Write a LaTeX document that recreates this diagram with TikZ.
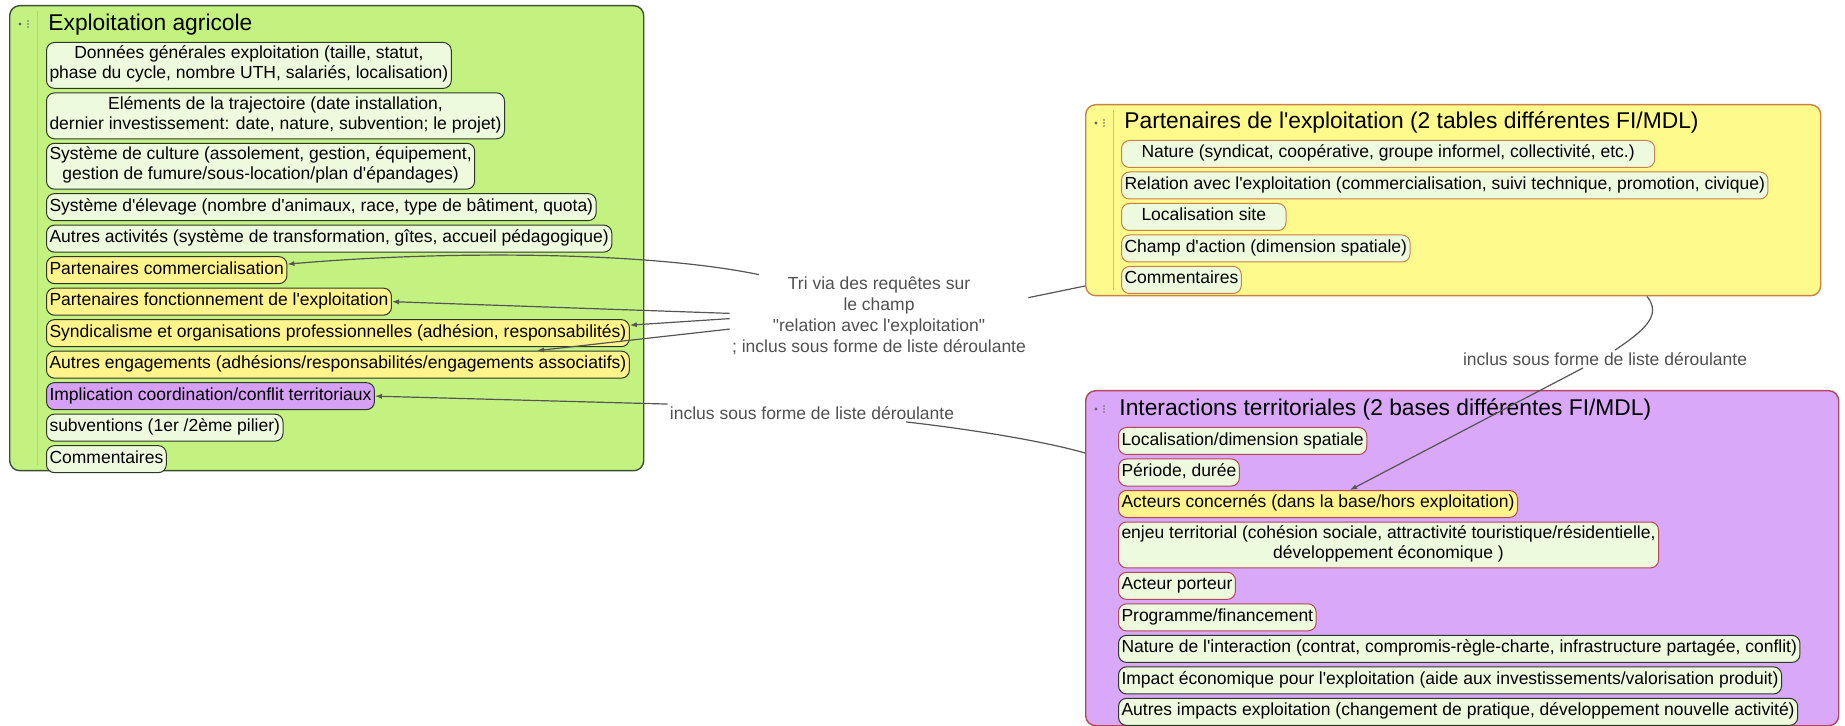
\documentclass[tikz,border=0pt]{standalone}
\usepackage{fontspec}
\setmainfont{Liberation Sans}[Ligatures=TeXOff]
\usetikzlibrary{positioning,arrows.meta}

\definecolor{grpgreen}{RGB}{196,242,128}
\definecolor{grpgreenline}{RGB}{60,80,50}
\definecolor{grpyellow}{RGB}{255,250,140}
\definecolor{grpyellowline}{RGB}{200,130,70}
\definecolor{grppurple}{RGB}{217,168,248}
\definecolor{grppurpleline}{RGB}{180,70,90}
\definecolor{itempale}{RGB}{238,250,222}
\definecolor{itemyellow}{RGB}{255,243,140}
\definecolor{itempurple}{RGB}{214,160,245}
\definecolor{itemline}{RGB}{45,55,40}
\definecolor{linegray}{RGB}{85,85,85}
\definecolor{labelgray}{RGB}{80,80,80}

\newcommand{\itemfont}{\fontsize{8.75}{10}\selectfont}
\newcommand{\lblfont}{\fontsize{8.75}{10.5}\selectfont}
\newcommand{\ttlfont}{\fontsize{11.4}{13}\selectfont}

\begin{document}
\begin{tikzpicture}[x=0.5pt, y=-0.5pt, >={Latex[length=3.5pt,width=2.6pt]},
    grp/.style={draw, anchor=north west, rounded corners=5pt, line width=0.7pt, inner sep=0pt},
    ttl/.style={anchor=west, inner sep=0pt, font=\ttlfont},
    item/.style={draw=itemline, fill=itempale, rounded corners=4pt, line width=0.5pt, inner xsep=1.5pt, inner ysep=1.75pt, align=center, font=\itemfont, execute at begin node=\strut, execute at end node=\strut},
    first/.style={anchor=north west},
    under/.style={below=1.75pt of #1.south west, anchor=north west},
    hl/.style={fill=itemyellow},
    pu/.style={fill=itempurple},
    org/.style={draw=grpyellowline},
    red/.style={draw=grppurpleline},
    wide/.style={inner xsep=10pt},
    lbl/.style={text=labelgray, font=\lblfont, inner sep=1pt, align=center},
    rel/.style={draw=linegray, line width=0.6pt}]

    \useasboundingbox (0,0) rectangle (1845,726);

    % containers
    \node[grp, fill=grpgreen, draw=grpgreenline, minimum width=317pt, minimum height=232.5pt] (ga) at (9,5) {};
    \node[grp, fill=grpyellow, draw=grpyellowline, minimum width=367.5pt, minimum height=95.5pt] (yp) at (1085,104) {};
    \node[grp, fill=grppurple, draw=grppurpleline, minimum width=376.5pt, minimum height=167.5pt] (pur) at (1085,390) {};

    \foreach \g in {ga,yp,pur}{
        \draw[black!25, line width=0.4pt] ([xshift=14pt,yshift=-3pt]\g.north west) -- ([xshift=14pt,yshift=3pt]\g.south west);
        \fill[black!60] ([xshift=5.5pt,yshift=-9.5pt]\g.north west) circle (0.8pt);
        \foreach \k in {0,1,2}
            \fill[black!60] ([xshift=9.5pt,yshift={-(8+1.5*\k)*1pt}]\g.north west) circle (0.45pt);
    }

    % titles
    \node[ttl] (gat) at (48,25) {Exploitation agricole};
    \node[ttl] (ypt) at (1124,122) {Partenaires de l'exploitation (2 tables différentes FI/MDL)};
    \node[ttl] (purt) at (1119,409) {Interactions territoriales (2 bases différentes FI/MDL)};

    % exploitation agricole
    \node[item, first] (g1) at (46,42) {Données générales exploitation (taille, statut,\\phase du cycle, nombre UTH, salariés, localisation)};
    \node[item, under=g1] (g2) {Eléments de la trajectoire (date installation,\\dernier investissement: date, nature, subvention; le projet)};
    \node[item, under=g2] (g3) {Système de culture (assolement, gestion, équipement,\\gestion de fumure/sous-location/plan d'épandages)};
    \node[item, under=g3] (g4) {Système d'élevage (nombre d'animaux, race, type de bâtiment, quota)};
    \node[item, under=g4] (g5) {Autres activités (système de transformation, gîtes, accueil pédagogique)};
    \node[item, hl, under=g5] (pc) {Partenaires commercialisation};
    \node[item, hl, under=pc] (pf) {Partenaires fonctionnement de l'exploitation};
    \node[item, hl, under=pf] (sy) {Syndicalisme et organisations professionnelles (adhésion, responsabilités)};
    \node[item, hl, under=sy] (ae) {Autres engagements (adhésions/responsabilités/engagements associatifs)};
    \node[item, pu, under=ae] (imp) {Implication coordination/conflit territoriaux};
    \node[item, under=imp] (g11) {subventions (1er /2ème pilier)};
    \node[item, under=g11] (g12) {Commentaires};

    % partenaires
    \node[item, org, wide, first] (y1) at (1121,140) {Nature (syndicat, coopérative, groupe informel, collectivité, etc.)};
    \node[item, org, under=y1] (y2) {Relation avec l'exploitation (commercialisation, suivi technique, promotion, civique)};
    \node[item, org, wide, under=y2] (y3) {Localisation site};
    \node[item, org, under=y3] (y4) {Champ d'action (dimension spatiale)};
    \node[item, org, under=y4] (y5) {Commentaires};

    % interactions
    \node[item, red, first] (p1) at (1118,427) {Localisation/dimension spatiale};
    \node[item, red, under=p1] (p2) {Période, durée};
    \node[item, red, hl, under=p2] (ac) {Acteurs concernés (dans la base/hors exploitation)};
    \node[item, red, under=ac] (p4) {enjeu territorial (cohésion sociale, attractivité touristique/résidentielle,\\développement économique )};
    \node[item, red, under=p4] (p5) {Acteur porteur};
    \node[item, red, under=p5] (p6) {Programme/financement};
    \node[item, under=p6] (p7) {Nature de l'interaction (contrat, compromis-règle-charte, infrastructure partagée, conflit)};
    \node[item, under=p7] (p8) {Impact économique pour l'exploitation (aide aux investissements/valorisation produit)};
    \node[item, under=p8] (p9) {Autres impacts exploitation (changement de pratique, développement nouvelle activité)};

    % labels
    \node[lbl] (tri) at (879,316) {Tri via des requêtes sur\\le champ\\"relation avec l'exploitation"\\; inclus sous forme de liste déroulante};
    \node[lbl] (incl) at (812,413) {inclus sous forme de liste déroulante};
    \node[lbl] (incr) at (1605,359) {inclus sous forme de liste déroulante};

    % relations
    \draw[rel] (yp.west |- 0,286) -- (tri.7);
    \draw[rel, ->] (tri.161) .. controls (650,252) and (450,250) .. ([yshift=3pt]pc.east);
    \draw[rel, ->] (tri.179) -- (pf.east);
    \draw[rel, ->] (tri.181.5) -- ([yshift=4pt]sy.east);
    \draw[rel, ->] (tri.185) -- (ae.north -| 537,0);
    \draw[rel] (pur.west |- 0,453) .. controls (1040,440) and (960,428) .. (incl.south -| 906,0);
    \draw[rel, ->] (incl.north west) -- (imp.east);
    \draw[rel] (yp.south -| 1647,0) .. controls (1662,315) and (1645,330) .. (incr.north -| 1615,0);
    \draw[rel, ->] (incr.south -| 1583,0) -- (ac.north -| 1350,0);
\end{tikzpicture}
\end{document}
